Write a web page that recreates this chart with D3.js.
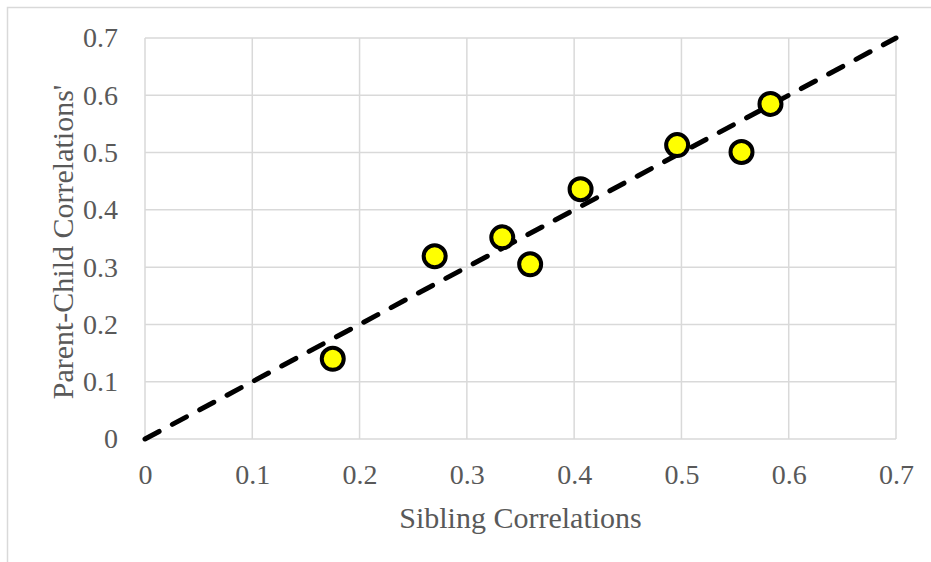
<!DOCTYPE html>
<html>
<head>
  <meta charset="utf-8">
  <script src="https://cdn.jsdelivr.net/npm/d3@7"></script>
  <style>
    body { margin: 0; background: #fff; }
    text { font-family: "Liberation Serif", serif; fill: #595959; }
  </style>
</head>
<body>
  <div class="chart"></div>
  <script>
    // sibling correlation (x) vs parent-child correlation (y)
    var siblingCorr = [0.175, 0.270, 0.333, 0.359, 0.406, 0.496, 0.556, 0.583];
    var parentChildCorr = [0.140, 0.319, 0.352, 0.305, 0.436, 0.513, 0.501, 0.585];
    var tickValues = [0, 0.1, 0.2, 0.3, 0.4, 0.5, 0.6, 0.7];
    var diagonal = [[0, 0], [0.7, 0.7]];

    var width = 931, height = 562;
    var margin = { top: 38, right: 35, bottom: 123, left: 145 };

    var svg = d3.select(".chart")
      .append("svg")
      .attr("width", width)
      .attr("height", height);

    // chart frame (runs off the right / bottom edge)
    svg.append("rect")
      .attr("x", 7.5).attr("y", 7.5)
      .attr("width", 1000).attr("height", 1000)
      .style("fill", "none")
      .style("stroke", "#d9d9d9")
      .style("stroke-width", 1.5);

    var x = d3.scaleLinear().domain([0, 0.7]).range([margin.left, width - margin.right]);
    var y = d3.scaleLinear().domain([0, 0.7]).range([height - margin.bottom, margin.top]);

    var fmt = function (d) { return d === 0 ? "0" : d3.format(".1f")(d); };

    // gridlines
    var grid = svg.append("g").attr("class", "grid");
    grid.selectAll(".vline")
      .data(tickValues)
      .enter().append("line")
      .attr("x1", function (d) { return x(d); })
      .attr("x2", function (d) { return x(d); })
      .attr("y1", y(0)).attr("y2", y(0.7))
      .style("stroke", "#d9d9d9").style("stroke-width", 1.5);
    grid.selectAll(".hline")
      .data(tickValues)
      .enter().append("line")
      .attr("y1", function (d) { return y(d); })
      .attr("y2", function (d) { return y(d); })
      .attr("x1", x(0)).attr("x2", x(0.7))
      .style("stroke", "#d9d9d9").style("stroke-width", 1.5);

    // axes (labels only)
    var xAxis = svg.append("g")
      .attr("transform", "translate(0," + y(0) + ")")
      .call(d3.axisBottom(x).tickValues(tickValues).tickFormat(fmt).tickSize(0).tickPadding(25));
    var yAxis = svg.append("g")
      .attr("transform", "translate(" + x(0) + ",0)")
      .call(d3.axisLeft(y).tickValues(tickValues).tickFormat(fmt).tickSize(0).tickPadding(27));
    [xAxis, yAxis].forEach(function (g) {
      g.select(".domain").remove();
      g.selectAll("text")
        .style("font-family", "'Liberation Serif', serif")
        .style("font-size", "28px")
        .style("fill", "#595959");
    });

    // dashed 1:1 line
    var line = d3.line().x(function (d) { return x(d[0]); }).y(function (d) { return y(d[1]); });
    svg.append("path")
      .datum(diagonal)
      .attr("d", line)
      .style("fill", "none")
      .style("stroke", "#000")
      .style("stroke-width", 5)
      .style("stroke-linecap", "round")
      .style("stroke-dasharray", "16,15");

    // points
    svg.append("g")
      .selectAll("circle")
      .data(siblingCorr)
      .enter().append("circle")
      .attr("cx", function (d) { return x(d); })
      .attr("cy", function (d, i) { return y(parentChildCorr[i]); })
      .attr("r", 11)
      .style("fill", "#ffff00")
      .style("stroke", "#000")
      .style("stroke-width", 4);

    // axis titles
    svg.append("text")
      .attr("x", (x(0) + x(0.7)) / 2)
      .attr("y", 528)
      .attr("text-anchor", "middle")
      .style("font-size", "30px")
      .text("Sibling Correlations");

    svg.append("text")
      .attr("transform", "translate(73,242) rotate(-90)")
      .attr("text-anchor", "middle")
      .style("font-size", "30px")
      .text("Parent-Child Correlations'");
  </script>
</body>
</html>
